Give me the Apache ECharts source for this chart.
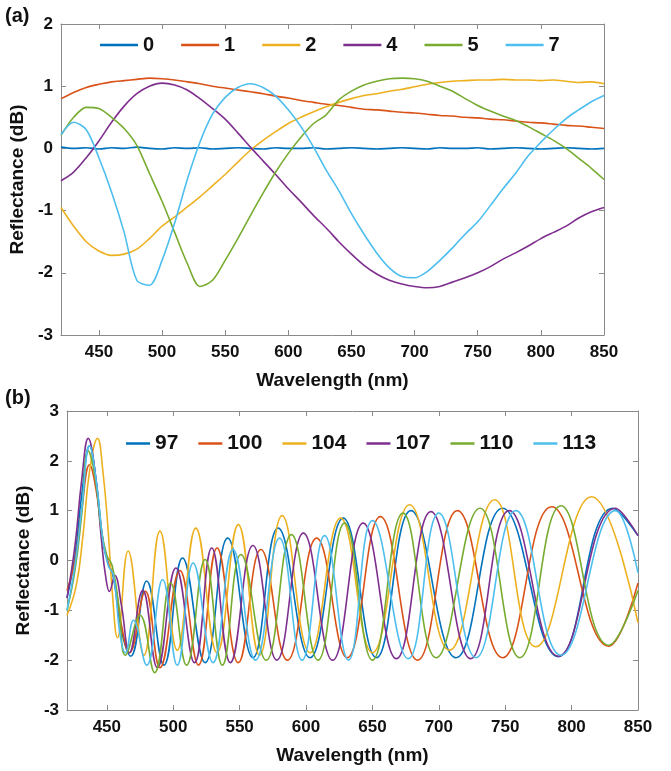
<!DOCTYPE html>
<html>
<head>
<meta charset="utf-8">
<script src="https://cdn.jsdelivr.net/npm/echarts@6/dist/echarts.min.js"></script>
<style>
html,body{margin:0;padding:0;background:#fff;}
#chart{width:671px;height:771px;}
</style>
</head>
<body>
<div id="chart"></div>
<script>
// ---------- Panel (a) data ----------
const wlA = [420,430,440,450,460,470,480,490,500,510,520,530,540,550,560,570,580,590,600,610,620,630,640,650,660,670,680,690,700,710,720,730,740,750,760,770,780,790,800,810,820,830,840,850];
const a0 = [0.02,0.00,0.01,-0.01,0.01,0.00,0.02,0.00,-0.01,0.01,0.00,0.01,-0.01,0.00,0.01,0.00,-0.01,0.01,0.00,0.00,0.01,-0.01,0.00,0.01,0.00,-0.01,0.00,0.01,0.00,-0.01,0.01,0.00,0.00,0.01,-0.01,0.00,0.01,0.00,-0.01,0.00,0.01,0.00,-0.01,0.00];
const a1 = [0.80,0.90,0.98,1.03,1.07,1.09,1.11,1.13,1.12,1.10,1.07,1.04,1.00,0.97,0.94,0.91,0.88,0.84,0.81,0.77,0.74,0.71,0.69,0.66,0.63,0.62,0.60,0.58,0.57,0.55,0.53,0.52,0.50,0.49,0.47,0.46,0.44,0.42,0.41,0.39,0.37,0.36,0.34,0.32];
const a2 = [-0.95,-1.25,-1.50,-1.65,-1.72,-1.70,-1.62,-1.45,-1.25,-1.10,-0.94,-0.78,-0.60,-0.42,-0.22,-0.03,0.13,0.27,0.40,0.50,0.59,0.67,0.74,0.80,0.85,0.88,0.92,0.95,0.99,1.03,1.06,1.08,1.09,1.10,1.10,1.11,1.10,1.10,1.09,1.10,1.08,1.06,1.07,1.04];
const a4 = [-0.52,-0.38,-0.15,0.12,0.42,0.68,0.88,1.00,1.05,1.02,0.94,0.80,0.64,0.47,0.25,0.02,-0.20,-0.42,-0.65,-0.86,-1.08,-1.28,-1.50,-1.70,-1.88,-2.02,-2.12,-2.18,-2.22,-2.24,-2.22,-2.15,-2.08,-2.00,-1.90,-1.78,-1.68,-1.57,-1.45,-1.35,-1.25,-1.12,-1.02,-0.95];
const a5 = [0.21,0.50,0.66,0.64,0.50,0.32,0.05,-0.40,-0.85,-1.35,-1.85,-2.22,-2.12,-1.80,-1.45,-1.08,-0.72,-0.38,-0.08,0.18,0.40,0.54,0.78,0.92,1.02,1.08,1.12,1.13,1.12,1.08,1.00,0.92,0.80,0.69,0.60,0.52,0.45,0.35,0.24,0.13,0.00,-0.16,-0.32,-0.50];
const a7 = [0.22,0.42,0.30,-0.15,-0.70,-1.35,-2.12,-2.20,-1.80,-1.20,-0.50,0.10,0.55,0.82,0.98,1.04,0.98,0.84,0.62,0.35,0.02,-0.35,-0.68,-1.05,-1.38,-1.68,-1.92,-2.06,-2.08,-1.98,-1.80,-1.60,-1.38,-1.18,-0.92,-0.65,-0.40,-0.12,0.10,0.30,0.48,0.62,0.75,0.85];
const namesA = ['0','1','2','4','5','7'];

// ---------- Panel (b) data ----------
const wl97 = [420,426,431,437,442,447,451,455,461,468,480,493,507,524,541,560,579,603,628,653,679,713,748,790,831,850];
const b97  = [-0.75,0.1,1.3,2.3,1.6,0.4,-0.05,-0.35,-1.4,-1.92,-0.41,-2.1,0.05,-2.05,0.45,-1.95,0.65,-1.95,0.85,-1.95,1.0,-1.95,1.05,-1.93,1.05,0.5];
const wl100 = [420,426,431,437,442,447,451,455,461,467,479,490,505,519,533,549,566,586,608,631,656,684,714,748,785,828,850];
const b100  = [-0.6,0.0,1.0,1.92,1.4,0.4,-0.05,-0.3,-1.3,-1.85,-0.62,-2.15,-0.2,-2.1,0.25,-2.05,0.22,-2.0,0.45,-1.95,0.88,-2.0,1.0,-1.95,1.08,-1.72,-0.45];
const wl104 = [420,427,432,437,443,447,451,454,458,466,478,490,503,517,533,549,565,582,603,626,650,678,708,742,773,815,850];
const b104  = [-1.1,-0.5,0.5,1.8,2.45,1.8,0.6,-0.6,-1.55,0.19,-1.9,0.59,-1.8,0.65,-1.85,0.72,-1.9,0.9,-1.85,0.85,-1.85,1.12,-1.8,1.22,-1.73,1.28,-1.25];
const wl107 = [420,426,431,436,441,446,449,452,456,461,467,477,488,502,516,529,543,560,578,598,620,643,668,694,724,753,790,833,850];
const b107  = [-0.75,0.3,1.6,2.45,1.8,0.4,-0.3,-0.62,-0.3,-0.9,-1.85,-0.6,-2.15,-0.15,-2.05,0.25,-2.05,0.3,-2.0,0.55,-2.0,0.75,-1.97,0.98,-1.97,1.0,-1.92,1.05,0.5];
const wl110 = [420,426,431,436,441,446,450,454,459,464,475,486,498,510,524,537,551,570,589,609,629,650,673,698,731,761,792,828,850];
const b110  = [-1.0,-0.2,0.9,2.2,1.7,0.6,0.1,-0.1,-0.9,-1.9,-1.1,-2.25,-0.45,-2.1,0.02,-2.1,0.12,-2.0,0.52,-2.0,0.75,-2.0,0.95,-1.95,1.05,-1.95,1.1,-1.7,-0.6];
const wl113 = [420,426,431,437,442,447,451,455,460,464,470,480,492,503,515,530,545,562,580,597,614,632,650,677,700,728,758,792,833,850];
const b113  = [-1.0,-0.1,1.0,2.3,1.6,0.4,-0.1,-0.3,-1.5,-1.85,-1.2,-2.1,-0.38,-2.1,-0.05,-2.05,0.22,-2.0,0.45,-2.0,0.5,-2.0,0.8,-1.97,0.95,-1.95,1.0,-1.9,1.0,-0.25];
const namesB = ['97','100','104','107','110','113'];

// ---------- Ticks ----------
const xTicks = [450,500,550,600,650,700,750,800,850];

const colors = ['#0072BD','#D95319','#EDB120','#7E2F8E','#77AC30','#4DBEEE'];
const FONT = '"Liberation Sans", Arial, sans-serif';
const AXC = '#8a8a8a';

function pairs(xs, ys){ return xs.map((x,i)=>[x, ys[i]]); }

function xAxes(grid){
  return [
    {gridIndex:grid, type:'value', min:420, max:850, position:'bottom',
     axisLine:{show:true, onZero:false, lineStyle:{color:AXC, width:1}},
     axisTick:{show:true, inside:true, length:5, customValues:xTicks, lineStyle:{color:AXC}},
     axisLabel:{customValues:xTicks, color:'#111', fontWeight:'bold', fontSize:17, fontFamily:FONT, margin:9},
     splitLine:{show:false},
     name:'Wavelength (nm)', nameLocation:'middle', nameGap:36,
     nameTextStyle:{color:'#111', fontWeight:'bold', fontSize:19, fontFamily:FONT}},
    {gridIndex:grid, type:'value', min:420, max:850, position:'top',
     axisLine:{show:true, onZero:false, lineStyle:{color:AXC, width:1}},
     axisTick:{show:true, inside:true, length:5, customValues:xTicks, lineStyle:{color:AXC}},
     axisLabel:{show:false}, splitLine:{show:false}}
  ];
}
function yAxes(grid, mn, mx){
  return [
    {gridIndex:grid, type:'value', min:mn, max:mx, interval:1, position:'left',
     axisLine:{show:true, onZero:false, lineStyle:{color:AXC, width:1}},
     axisTick:{show:true, inside:true, length:5, lineStyle:{color:AXC}},
     axisLabel:{color:'#111', fontWeight:'bold', fontSize:17, fontFamily:FONT, margin:8},
     splitLine:{show:false},
     name:'Reflectance (dB)', nameLocation:'middle', nameGap:30, nameRotate:90,
     nameTextStyle:{color:'#111', fontWeight:'bold', fontSize:19, fontFamily:FONT}},
    {gridIndex:grid, type:'value', min:mn, max:mx, interval:1, position:'right',
     axisLine:{show:true, onZero:false, lineStyle:{color:AXC, width:1}},
     axisTick:{show:true, inside:true, length:5, lineStyle:{color:AXC}},
     axisLabel:{show:false}, splitLine:{show:false}}
  ];
}

const seriesA = [a0,a1,a2,a4,a5,a7].map((ys,i)=>({
  name:namesA[i], type:'line', xAxisIndex:0, yAxisIndex:0,
  data:pairs(wlA, ys), symbol:'none', smooth:0.3,
  lineStyle:{width:1.6, color:colors[i]}, itemStyle:{color:colors[i]}
}));
const wlB = [wl97,wl100,wl104,wl107,wl110,wl113];
const seriesB = [b97,b100,b104,b107,b110,b113].map((ys,i)=>({
  name:namesB[i], type:'line', xAxisIndex:2, yAxisIndex:2,
  data:pairs(wlB[i], ys), symbol:'none', smooth:0.45,
  lineStyle:{width:1.6, color:colors[i]}, itemStyle:{color:colors[i]}
}));

const chart = echarts.init(document.getElementById('chart'), null, {renderer:'canvas'});
chart.setOption({
  animation:false,
  backgroundColor:'#fff',
  grid:[{left:61, top:24, width:543, height:311},{left:67, top:411, width:571, height:299}],
  xAxis:[...xAxes(0), ...xAxes(1)],
  yAxis:[...yAxes(0,-3,2), ...yAxes(1,-3,3)],
  legend:[
    {data:namesA, left:95, top:30, icon:'rect', itemWidth:38, itemHeight:2.5, itemGap:27,
     textStyle:{color:'#111', fontWeight:'bold', fontSize:20, fontFamily:FONT}},
    {data:namesB, left:121, top:428, icon:'rect', itemWidth:24, itemHeight:2.5, itemGap:20,
     textStyle:{color:'#111', fontWeight:'bold', fontSize:21, fontFamily:FONT}}
  ],
  graphic:[
    {type:'text', left:5, top:6, style:{text:'(a)', fill:'#111', font:'bold 20px "Liberation Sans", Arial, sans-serif'}},
    {type:'text', left:5, top:388, style:{text:'(b)', fill:'#111', font:'bold 20px "Liberation Sans", Arial, sans-serif'}}
  ],
  series:[...seriesA, ...seriesB]
});
</script>
</body>
</html>
